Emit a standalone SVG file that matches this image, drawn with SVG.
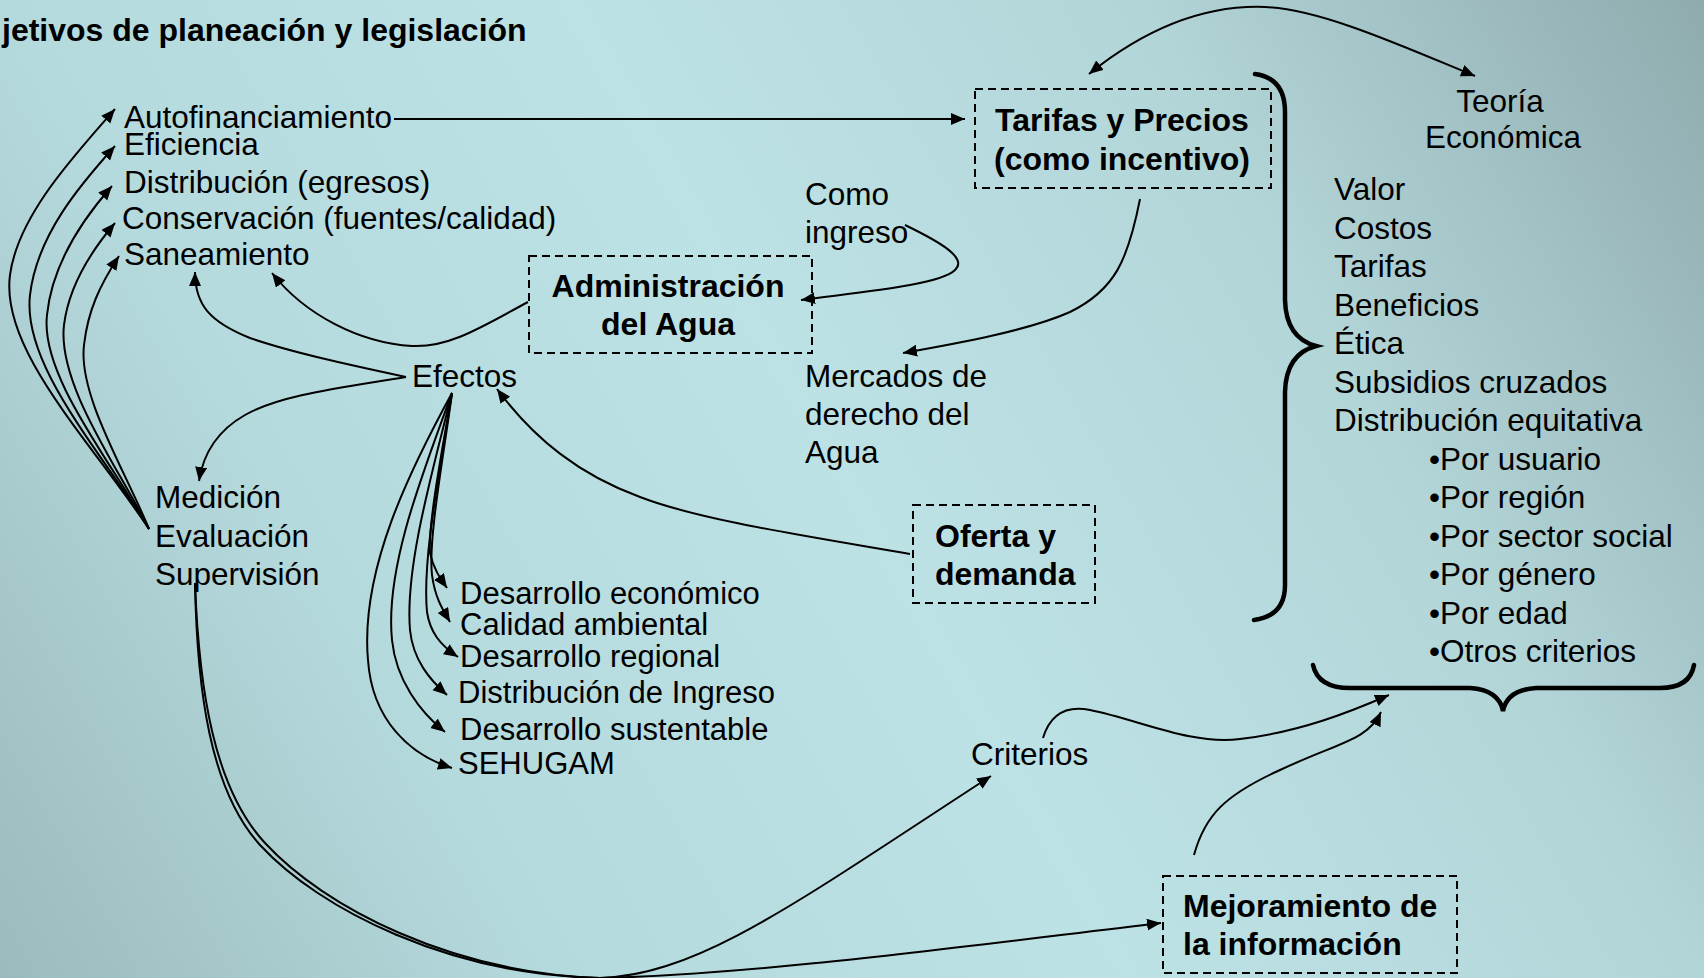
<svg xmlns="http://www.w3.org/2000/svg" width="1704" height="978" viewBox="0 0 1704 978">
<defs>
<linearGradient id="bg" gradientUnits="userSpaceOnUse" x1="0" y1="978" x2="1704" y2="0">
<stop offset="0" stop-color="#9bbbbe"/>
<stop offset="0.25" stop-color="#b5dadd"/>
<stop offset="0.5" stop-color="#bde2e5"/>
<stop offset="0.75" stop-color="#b2d5d8"/>
<stop offset="1" stop-color="#8fabae"/>
</linearGradient>
<marker id="ah" markerUnits="userSpaceOnUse" markerWidth="15" markerHeight="13" refX="14" refY="6" orient="auto-start-reverse" viewBox="0 0 15 13">
<path d="M0,0 L14,6 L0,12 z" fill="#000"/>
</marker>
<style>
.t{font-family:"Liberation Sans",Arial,sans-serif;font-size:31.5px;fill:#000}
.s{font-size:31px}
.b{font-weight:bold;font-size:32px}
.m{text-anchor:middle}
.box{fill:none;stroke:#000;stroke-width:2;stroke-dasharray:8 5}
.c{fill:none;stroke:#000;stroke-width:2}
.a{marker-end:url(#ah)}
.br{fill:none;stroke:#000;stroke-width:4.5;stroke-linecap:round}
</style>
</defs>
<rect x="0" y="0" width="1704" height="978" fill="url(#bg)"/>

<g id="title"><text class="t b" x="2" y="41">jetivos de planeación y legislación</text></g>

<g id="objetivos">
<text class="t" x="124" y="128">Autofinanciamiento</text>
<text class="t" x="124" y="155">Eficiencia</text>
<text class="t" x="124" y="193">Distribución (egresos)</text>
<text class="t" x="122" y="229">Conservación (fuentes/calidad)</text>
<text class="t" x="124" y="265">Saneamiento</text>
</g>

<g id="efectos"><text class="t" x="412" y="387">Efectos</text></g>

<g id="medicion">
<text class="t" x="155" y="508">Medición</text>
<text class="t" x="155" y="547">Evaluación</text>
<text class="t" x="155" y="585">Supervisión</text>
</g>

<g id="efectos-lista">
<text class="t s" x="460" y="604">Desarrollo económico</text>
<text class="t s" x="460" y="635">Calidad ambiental</text>
<text class="t s" x="460" y="667">Desarrollo regional</text>
<text class="t s" x="458" y="703">Distribución de Ingreso</text>
<text class="t s" x="460" y="740">Desarrollo sustentable</text>
<text class="t s" x="458" y="774">SEHUGAM</text>
</g>

<g id="como-ingreso">
<text class="t" x="805" y="205">Como</text>
<text class="t" x="805" y="243">ingreso</text>
</g>

<g id="mercados">
<text class="t" x="805" y="387">Mercados de</text>
<text class="t" x="805" y="425">derecho del</text>
<text class="t" x="805" y="463">Agua</text>
</g>

<g id="administracion">
<rect class="box" x="529" y="256" width="283" height="97"/>
<text class="t b m" x="668" y="297">Administración</text>
<text class="t b m" x="668" y="335">del Agua</text>
</g>

<g id="tarifas">
<rect class="box" x="975" y="89" width="296" height="99"/>
<text class="t b m" x="1122" y="131">Tarifas y Precios</text>
<text class="t b m" x="1122" y="170">(como incentivo)</text>
</g>

<g id="oferta">
<rect class="box" x="913" y="505" width="182" height="98"/>
<text class="t b" x="935" y="547">Oferta y</text>
<text class="t b" x="935" y="585">demanda</text>
</g>

<g id="mejoramiento">
<rect class="box" x="1163" y="876" width="294" height="97"/>
<text class="t b" x="1183" y="917">Mejoramiento de</text>
<text class="t b" x="1183" y="955">la información</text>
</g>

<g id="criterios"><text class="t" x="971" y="765">Criterios</text></g>

<g id="teoria">
<text class="t m" x="1500" y="112">Teoría</text>
<text class="t m" x="1503" y="148">Económica</text>
</g>

<g id="lista-derecha">
<text class="t" x="1334" y="200">Valor</text>
<text class="t" x="1334" y="238.5">Costos</text>
<text class="t" x="1334" y="277">Tarifas</text>
<text class="t" x="1334" y="315.5">Beneficios</text>
<text class="t" x="1334" y="354">Ética</text>
<text class="t" x="1334" y="392.5">Subsidios cruzados</text>
<text class="t" x="1334" y="431">Distribución equitativa</text>
<text class="t" x="1429" y="469.5">•Por usuario</text>
<text class="t" x="1429" y="508">•Por región</text>
<text class="t" x="1429" y="546.5">•Por sector social</text>
<text class="t" x="1429" y="585">•Por género</text>
<text class="t" x="1429" y="623.5">•Por edad</text>
<text class="t" x="1429" y="662">•Otros criterios</text>
</g>

<g id="llaves">
<path class="br" d="M1255,74 Q1285,78 1285,112 L1285,300 Q1286,338 1316,346 Q1286,354 1285,392 L1285,585 Q1285,616 1254,620"/>
<path class="br" d="M1313,665 Q1318,688 1350,688 L1470,688 Q1499,690 1503,711 Q1507,690 1536,688 L1660,688 Q1690,688 1694,665"/>
</g>

<g id="connectors">
<path class="c a" d="M149,529 C90,440 0,350 10,275 C18,215 75,155 115,109"/>
<path class="c a" d="M149,529 C100,450 22,365 30,295 C37,235 80,185 115,146"/>
<path class="c a" d="M149,529 C110,460 40,375 47,315 C52,265 82,220 112,186"/>
<path class="c a" d="M149,529 C120,470 57,385 64,325 C69,285 92,250 115,223"/>
<path class="c a" d="M149,529 C125,470 78,395 84,345 C88,310 100,285 119,256"/>
<path class="c a" d="M394,119 L965,119"/>
<path class="c a" d="M1089,74 C1150,25 1210,5 1265,7 C1320,9 1400,45 1475,76" marker-start="url(#ah)"/>
<path class="c a" d="M905,225 C940,242 968,258 955,270 C940,285 860,292 801,300"/>
<path class="c a" d="M1140,199 C1128,260 1115,290 1070,312 C1030,330 960,343 903,353"/>
<path class="c a" d="M528,302 C485,325 450,348 412,346 C360,343 305,315 272,273"/>
<path class="c a" d="M406,377 C350,365 290,352 250,338 C210,322 195,305 195,272"/>
<path class="c a" d="M406,377 C340,388 280,395 245,415 C215,432 203,455 199,481"/>
<path class="c a" d="M910,554 C800,535 700,520 640,497 C580,475 535,440 497,389"/>
<path class="c a" d="M452,393 C442,450 428,525 430,553 C433,568 440,578 447,588"/>
<path class="c a" d="M452,393 C443,460 428,540 432,575 C435,598 443,610 450,622"/>
<path class="c a" d="M452,393 C440,470 422,560 427,612 C430,632 440,645 458,657"/>
<path class="c a" d="M452,393 C430,480 405,570 410,630 C413,660 430,680 447,695"/>
<path class="c a" d="M452,393 C420,480 385,570 392,640 C396,680 420,712 445,732"/>
<path class="c a" d="M452,393 C410,470 360,570 368,660 C372,720 410,755 452,768"/>
<path class="c a" d="M195,583 C197,690 210,790 260,845 C320,910 450,975 600,978 C700,975 800,900 991,776"/>
<path class="c a" d="M195,583 C199,690 214,788 265,843 C325,908 452,973 600,978 C750,975 950,948 1161,923"/>
<path class="c a" d="M1194,855 C1205,815 1225,795 1280,770 C1340,742 1368,740 1381,712"/>
<path class="c a" d="M1043,738 C1050,715 1065,705 1090,710 C1140,720 1190,745 1240,739 C1300,732 1350,712 1389,695"/>
</g>
</svg>
